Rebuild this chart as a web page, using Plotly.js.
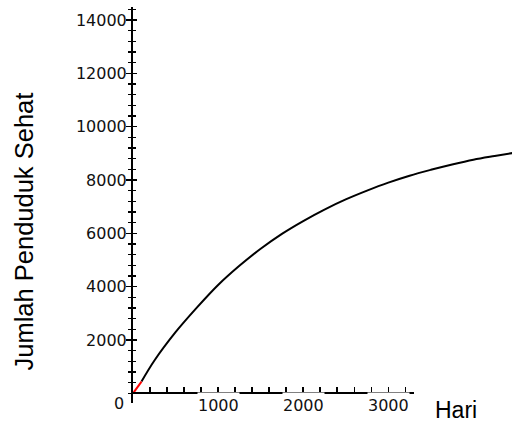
<!DOCTYPE html>
<html>
<head>
<meta charset="utf-8">
<script src="https://cdn.plot.ly/plotly-3.0.1.min.js"></script>
<style>html,body{margin:0;padding:0;background:#fff;}#chart{width:512px;height:424px;}</style>
</head>
<body>
<div id="chart"></div>
<script>
// Days (Hari) and healthy population (Jumlah Penduduk Sehat)
var redDays = [0, 100];
var redPop = [0, 440];
var days = [100, 250, 500, 750, 1000, 1250, 1500, 1750, 2000, 2250, 2500, 2750, 3000, 3250, 3500, 3750, 4000, 4250, 4500];
var pop  = [440, 1220, 2290, 3210, 4060, 4780, 5420, 5980, 6460, 6890, 7270, 7600, 7900, 8160, 8380, 8580, 8760, 8900, 9030];

var yTickVals = [2000, 4000, 6000, 8000, 10000, 12000, 14000];
var xTickVals = [1000, 2000, 3000];
var xTickText = ["1000", "2000", "3000"];
var originX = [0];
var originY = [0];
var originLabel = "0";
var xTitle = "Hari";
var yTitle = "Jumlah Penduduk Sehat";

var xViewMax = 4453.6;   // visible extent of the curve (cropped at the right edge)
var xAxisMax = 3300;     // the drawn x axis stops here
var yRange = [-364, 14486];

var numFont = {family: "DejaVu Sans", size: 16, color: "#111"};
var lblFont = {family: "Liberation Sans", size: 23, color: "#000"};

var traces = [
  {x: days, y: pop, xaxis: "x", yaxis: "y", mode: "lines",
   line: {color: "#000", width: 2, shape: "spline", smoothing: 1}, hoverinfo: "skip"},
  {x: redDays, y: redPop, xaxis: "x2", yaxis: "y", mode: "lines",
   line: {color: "#ff0000", width: 2}, hoverinfo: "skip"},
  // origin point (carries the right-hand half of the y ticks)
  {x: originX, y: originY, xaxis: "x", yaxis: "y2", mode: "markers",
   marker: {size: 1, opacity: 0}, hoverinfo: "skip"}
];

var annotations = xTickVals.map(function (v, i) {
  return {x: v, y: 0, xref: "x", yref: "y", text: xTickText[i], showarrow: false,
    xanchor: "center", yanchor: "top", yshift: 1, bgcolor: "#fff", borderpad: 0,
    height: 25, valign: "middle", font: numFont};
});
annotations.push({x: originX[0], y: originY[0], xref: "x", yref: "y", text: originLabel, showarrow: false,
  xanchor: "right", yanchor: "middle", xshift: -7, yshift: -10, font: numFont});
annotations.push({x: 0.852, y: 0, xref: "paper", yref: "paper", text: xTitle, showarrow: false,
  xanchor: "center", yanchor: "middle", yshift: -7, font: lblFont});
annotations.push({x: 0, y: 0.433, xref: "paper", yref: "paper", text: yTitle, showarrow: false,
  xanchor: "center", yanchor: "middle", xshift: -109, textangle: -90,
  font: {family: "Liberation Sans", size: 25.5, color: "#000"}});

var layout = {
  width: 512, height: 424,
  margin: {l: 133, r: 0, t: 7, b: 21},
  paper_bgcolor: "#fff", plot_bgcolor: "rgba(0,0,0,0)",
  showlegend: false,
  xaxis: {visible: false, range: [0, xViewMax], domain: [0, 1], anchor: "y", fixedrange: true},
  xaxis2: {range: [0, xAxisMax], domain: [0, xAxisMax / xViewMax], anchor: "free",
    position: (-yRange[0]) / (yRange[1] - yRange[0]),
    showline: true, linecolor: "#000", linewidth: 2, showgrid: false, zeroline: false,
    tickmode: "array", tickvals: xTickVals, ticks: "inside", ticklen: 5, tickwidth: 1.5, tickcolor: "#000",
    showticklabels: false,
    minor: {tickmode: "linear", tick0: 0, dtick: 200, ticks: "inside", ticklen: 5, tickwidth: 1.5, tickcolor: "#000", showgrid: false}},
  yaxis: {range: yRange, anchor: "x", side: "left", showline: true, linecolor: "#000", linewidth: 2,
    showgrid: false, zeroline: false, tickmode: "array", tickvals: yTickVals, tickformat: "d",
    ticks: "outside", ticklen: 5, tickwidth: 1.5, tickcolor: "#000", tickfont: numFont, ticklabelstandoff: -4,
    minor: {tickmode: "linear", tick0: 0, dtick: 400, ticks: "outside", ticklen: 3, tickwidth: 1.5, tickcolor: "#000", showgrid: false}},
  yaxis2: {range: yRange, overlaying: "y", anchor: "x", side: "left", showline: false,
    showgrid: false, zeroline: false, tickmode: "array", tickvals: yTickVals,
    ticks: "inside", ticklen: 4, tickwidth: 1.5, tickcolor: "#000", showticklabels: false,
    minor: {tickmode: "linear", tick0: 0, dtick: 400, ticks: "inside", ticklen: 3, tickwidth: 1.5, tickcolor: "#000", showgrid: false}},
  annotations: annotations
};

Plotly.newPlot("chart", traces, layout, {staticPlot: true, displayModeBar: false});
</script>
</body>
</html>
